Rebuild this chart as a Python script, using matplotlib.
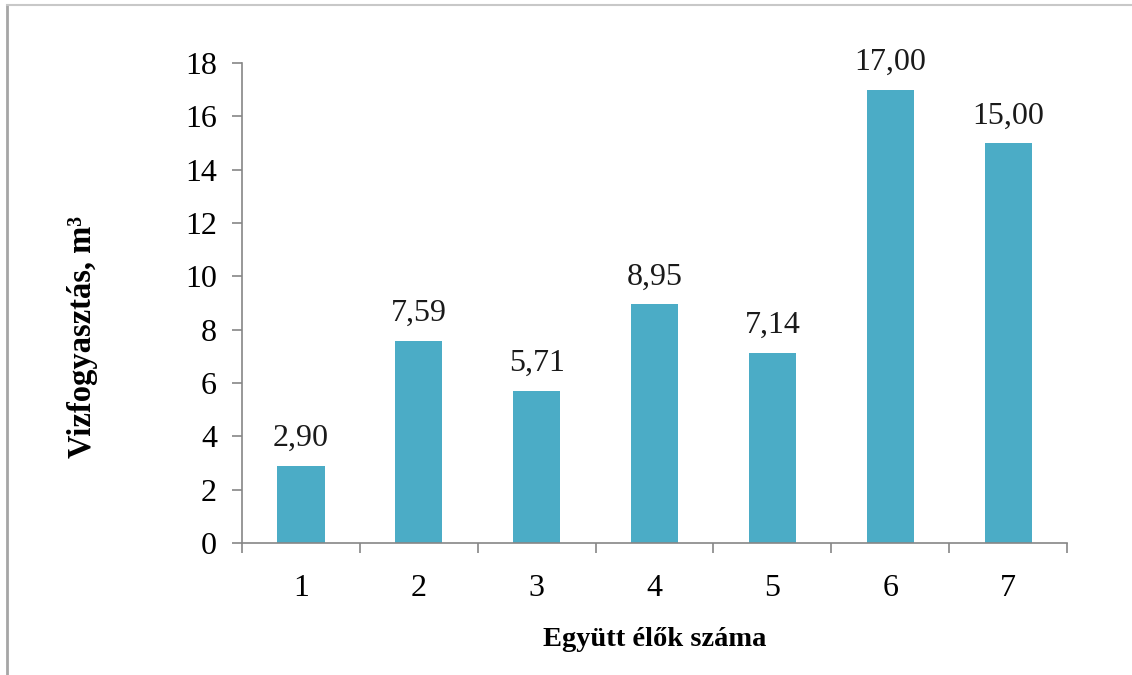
import matplotlib.pyplot as plt
from matplotlib.lines import Line2D
from matplotlib.ticker import FixedLocator, NullFormatter

# water use by household size
household_size = ['1', '2', '3', '4', '5', '6', '7']
water_use = [2.90, 7.59, 5.71, 8.95, 7.14, 17.00, 15.00]

plt.rcParams['font.family'] = ['Liberation Serif', 'DejaVu Serif']

fig = plt.figure(figsize=(11.32, 6.75), dpi=100)
ax = fig.add_axes([0.2138, 0.1956, 0.7288, 0.7111])

x = list(range(len(household_size)))
bars = ax.bar(x, water_use, width=0.4, color='#4BACC6', zorder=2)

for xi, v in zip(x, water_use):
    ax.annotate(('%.2f' % v).replace('.', ','), (xi, v), xytext=(0, 9),
                textcoords='offset points', ha='center', va='bottom',
                fontsize=23, color='#1a1a1a')

ax.set_xlim(-0.5, len(x) - 0.5)
ax.set_ylim(0, 18)
ax.set_yticks(range(0, 19, 2))

# tick marks between categories, labels under the bars
ax.xaxis.set_major_locator(FixedLocator([i - 0.5 for i in range(len(x) + 1)]))
ax.xaxis.set_major_formatter(NullFormatter())
ax.xaxis.set_minor_locator(FixedLocator(x))
ax.set_xticklabels(household_size, minor=True)
ax.tick_params(axis='x', which='major', length=7, width=1.2, color='#868686')
ax.tick_params(axis='x', which='minor', length=0, pad=22, labelsize=23)
ax.tick_params(axis='y', length=7, width=1.2, color='#868686', pad=11, labelsize=23)

for side in ['top', 'right']:
    ax.spines[side].set_visible(False)
for side in ['left', 'bottom']:
    ax.spines[side].set_color('#868686')
    ax.spines[side].set_linewidth(1.2)

ax.set_ylabel('Vizfogyasztás, m³', fontsize=23.5, fontweight='bold')
ax.yaxis.set_label_coords(-0.174, 0.43)
ax.set_xlabel('Együtt élők száma', fontsize=20.5, fontweight='bold')
ax.xaxis.set_label_coords(0.5, -0.176)

# frame lines along left and top edge
fig.add_artist(Line2D([0.0066, 0.0066], [0, 0.993], color='#a6a6a6', lw=2))
fig.add_artist(Line2D([0.0066, 1], [0.993, 0.993], color='#c8c8c8', lw=1.5))

fig.savefig('out.png', dpi=100)
